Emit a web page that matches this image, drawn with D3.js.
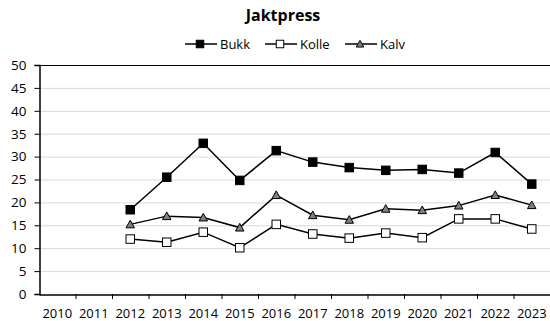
<!DOCTYPE html>
<html><head><meta charset="utf-8">
<script src="https://cdn.jsdelivr.net/npm/d3@7"></script>
<style>body{margin:0;background:#fff;} svg{display:block;}</style>
</head><body>
<svg id="c" width="550" height="321"></svg>
<script>
const years = ["2010","2011","2012","2013","2014","2015","2016","2017","2018","2019","2020","2021","2022","2023"];
const bukk  = [null,null,18.4,25.5,32.9,24.8,31.3,28.8,27.6,27.0,27.2,26.4,30.9,24.0];
const kolle = [null,null,12.0,11.3,13.5,10.1,15.2,13.1,12.2,13.3,12.3,16.4,16.4,14.2];
const kalv  = [null,null,15.2,17.0,16.7,14.5,21.6,17.2,16.2,18.6,18.3,19.3,21.6,19.4];
const yTicks = [0,5,10,15,20,25,30,35,40,45,50];

const svg = d3.select("#c");
const font = "'Open Sans', sans-serif";
const L = 39, R = 550, T = 65, B = 294;

const x = d3.scaleBand().domain(years).range([L, R]);
const y = d3.scaleLinear().domain([0,50]).range([B, T]);

// gridlines
svg.append("g").selectAll("line").data(yTicks.filter(d=>d>0)).join("line")
  .attr("x1", L).attr("x2", R).attr("y1", d=>y(d)+0.5).attr("y2", d=>y(d)+0.5)
  .attr("stroke", "#d9d9d9").attr("stroke-width", 1);

// plot border top
svg.append("line").attr("x1", L).attr("x2", R).attr("y1", T+0.5).attr("y2", T+0.5)
  .attr("stroke", "#000").attr("stroke-width", 1.2);

// y axis
const yAxis = d3.axisLeft(y).tickValues(yTicks).tickSize(5).tickPadding(8);
const gy = svg.append("g").attr("transform", `translate(${L+0.5},0)`).call(yAxis);
gy.select(".domain").attr("stroke", "#000").attr("stroke-width", 1.5);
gy.selectAll("text").attr("font-family", font).attr("font-size", 13.5).attr("fill", "#000");

// x axis
const xAxis = d3.axisBottom(x).tickSize(0);
const gx = svg.append("g").attr("transform", `translate(0,${B+0.5})`).call(xAxis);
gx.select(".domain").attr("stroke", "#000").attr("stroke-width", 1.5);
gx.selectAll("text").attr("font-family", font).attr("font-size", 13).attr("fill", "#000")
  .attr("y", 23).attr("dy", 0);
gx.selectAll(".tick line").remove();
// category boundary ticks
svg.append("g").selectAll("line").data(years.slice(1)).join("line")
  .attr("x1", d=>x(d)+0.5).attr("x2", d=>x(d)+0.5).attr("y1", B).attr("y2", B+5)
  .attr("stroke", "#000").attr("stroke-width", 1);

const cx = d => x(d) + x.bandwidth()/2;
const series = [
  {name:"Bukk", vals:bukk, shape:"square", fill:"#000"},
  {name:"Kolle", vals:kolle, shape:"square", fill:"#fff"},
  {name:"Kalv", vals:kalv, shape:"triangle", fill:"#808080"}
];
const line = d3.line().defined(d=>d.v!=null).x(d=>cx(d.year)).y(d=>y(d.v));

function marker(g, shape, fill, s) {
  if (shape === "square") {
    g.append("rect").attr("x",-s/2).attr("y",-s/2).attr("width",s).attr("height",s)
      .attr("fill", fill).attr("stroke","#000").attr("stroke-width",1);
  } else {
    const h = s*0.9;
    g.append("path").attr("d",`M0,${-h*0.55} L${s/2},${h*0.45} L${-s/2},${h*0.45} Z`)
      .attr("fill", fill).attr("stroke","#000").attr("stroke-width",1);
  }
}

series.forEach(s => {
  const data = years.map((yr,i)=>({year:yr, v:s.vals[i]}));
  svg.append("path").datum(data).attr("d", line)
    .attr("fill","none").attr("stroke","#000").attr("stroke-width",1.5);
  svg.append("g").selectAll("g").data(data.filter(d=>d.v!=null)).join("g")
    .attr("transform", d=>`translate(${cx(d.year)},${y(d.v)})`)
    .each(function(){ marker(d3.select(this), s.shape, s.fill, 8.5); });
});

// title
svg.append("text").attr("x", 283).attr("y", 21).attr("text-anchor","middle")
  .attr("font-family", font).attr("font-weight","bold").attr("font-size", 16).text("Jaktpress");

// legend
const legX = [185, 265, 345];
series.forEach((s,i) => {
  const g = svg.append("g").attr("transform", `translate(${legX[i]},44)`);
  g.append("line").attr("x1",0).attr("x2",32).attr("y1",0).attr("y2",0).attr("stroke","#000").attr("stroke-width",1.5);
  const m = g.append("g").attr("transform","translate(15,0)");
  marker(m, s.shape, s.fill, 7.5);
  g.append("text").attr("x", 35).attr("y", 4.5).attr("font-family", font).attr("font-size", 13).text(s.name);
});
</script>
</body></html>
